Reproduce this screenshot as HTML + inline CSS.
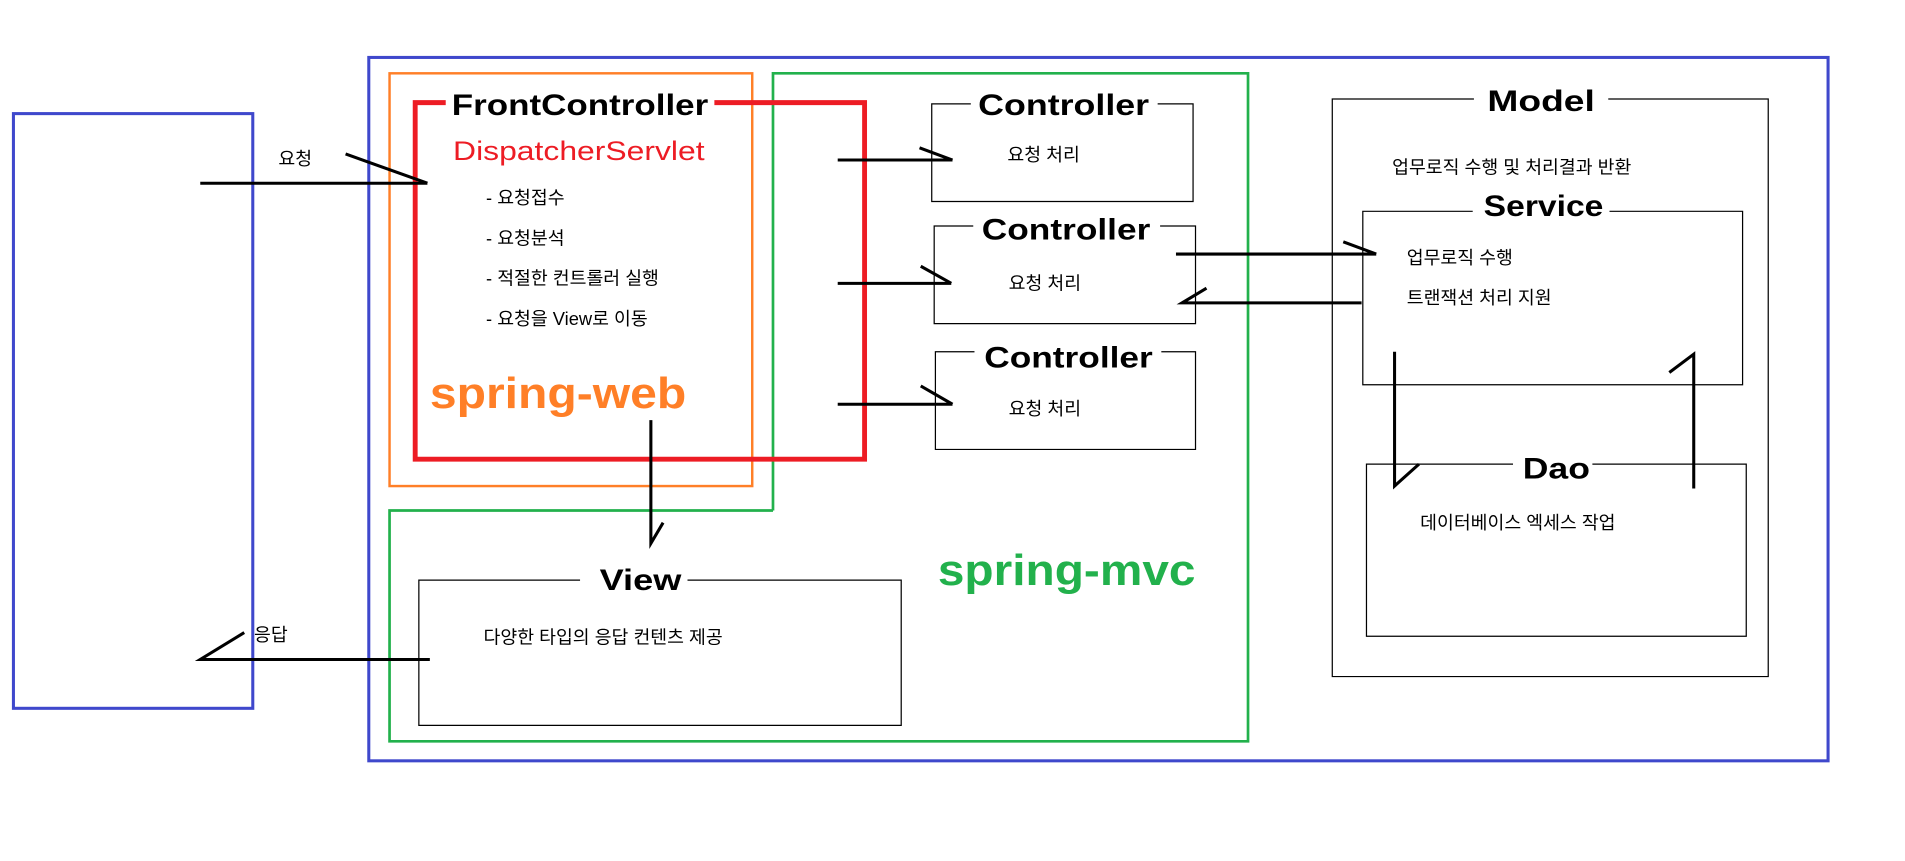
<!DOCTYPE html>
<html><head><meta charset="utf-8"><style>
html,body{margin:0;padding:0;background:#fff;}
svg{display:block;}
text{font-family:"Liberation Sans","Noto Sans CJK KR",sans-serif;}
</style></head><body>
<svg width="1905" height="861" viewBox="0 0 1560 705" xmlns="http://www.w3.org/2000/svg">
<rect x="0" y="0" width="1560" height="705" fill="#fff"/>
<g fill="none">
<!-- blue boxes -->
<rect x="11" y="93" width="196" height="487" stroke="#3f48cc" stroke-width="2.5"/>
<rect x="302" y="47" width="1195" height="576" stroke="#3f48cc" stroke-width="2.5"/>
<!-- orange -->
<rect x="319" y="60" width="297" height="338" stroke="#ff7f27" stroke-width="2"/>
<!-- green -->
<path d="M633 418 V60 H1022 V607 H319 V418 H633" stroke="#22b14c" stroke-width="2.2"/>
<!-- red -->
<path d="M365 84 H340 V376 H708 V84 H585" stroke="#ed1c24" stroke-width="4"/>
<!-- controller boxes -->
<path d="M795 85 H763 V165 H977 V85 H948" stroke="#000" stroke-width="1"/>
<path d="M797 185 H765 V265 H979 V185 H950" stroke="#000" stroke-width="1"/>
<path d="M798 288 H766 V368 H979 V288 H951" stroke="#000" stroke-width="1"/>
<!-- view -->
<path d="M475 475 H343 V594 H738 V475 H563" stroke="#000" stroke-width="1"/>
<!-- model -->
<path d="M1207 81 H1091 V554 H1448 V81 H1317" stroke="#000" stroke-width="1"/>
<path d="M1206 173 H1116 V315 H1427 V173 H1318" stroke="#000" stroke-width="1"/>
<path d="M1239 380 H1119 V521 H1430 V380 H1304" stroke="#000" stroke-width="1"/>
<!-- arrows -->
<g stroke="#000" stroke-width="2.5">
<path d="M164 150 H350 M283 126 L350 150"/>
<path d="M686 131 H780 M753 121 L780 131"/>
<path d="M686 232 H779 M754 218 L779 232"/>
<path d="M686 331 H780 M754 316 L780 331"/>
<path d="M352 540 H164 L200 518"/>
<path d="M533 344 V445 L543 428"/>
<path d="M963 208 H1127 M1100 198 L1127 208"/>
<path d="M1115 248 H968 L988 236"/>
<path d="M1142 288 V398 L1162 380"/>
<path d="M1387 400 V290 L1367 305"/>
</g>
</g>
<!-- text -->
<text x="370" y="94" font-size="24" font-weight="bold" textLength="210" lengthAdjust="spacingAndGlyphs">FrontController</text>
<text x="371" y="131" font-size="22" fill="#ed1c24" textLength="206" lengthAdjust="spacingAndGlyphs">DispatcherServlet</text>
<g font-size="15" fill="#000">
<text x="398" y="167">- 요청접수</text>
<text x="398" y="200">- 요청분석</text>
<text x="398" y="233">- 적절한 컨트롤러 실행</text>
<text x="398" y="266">- 요청을 View로 이동</text>
<text x="228" y="135">요청</text>
<text x="208" y="525">응답</text>
<text x="825" y="132">요청 처리</text>
<text x="826" y="237">요청 처리</text>
<text x="826" y="340">요청 처리</text>
<text x="396" y="527">다양한 타입의 응답 컨텐츠 제공</text>
<text x="1140" y="142">업무로직 수행 및 처리결과 반환</text>
<text x="1152" y="216">업무로직 수행</text>
<text x="1152" y="249">트랜잭션 처리 지원</text>
<text x="1163" y="433">데이터베이스 엑세스 작업</text>
</g>
<text x="352" y="334" font-size="36" font-weight="bold" fill="#ff7f27" textLength="210" lengthAdjust="spacingAndGlyphs">spring-web</text>
<text x="768" y="479" font-size="36" font-weight="bold" fill="#22b14c" textLength="211" lengthAdjust="spacingAndGlyphs">spring-mvc</text>
<g font-size="24" font-weight="bold" fill="#000">
<text x="801" y="94" textLength="140" lengthAdjust="spacingAndGlyphs">Controller</text>
<text x="804" y="196" textLength="138" lengthAdjust="spacingAndGlyphs">Controller</text>
<text x="806" y="301" textLength="138" lengthAdjust="spacingAndGlyphs">Controller</text>
<text x="491" y="483" textLength="67" lengthAdjust="spacingAndGlyphs">View</text>
<text x="1218" y="91" textLength="88" lengthAdjust="spacingAndGlyphs">Model</text>
<text x="1215" y="177" textLength="98" lengthAdjust="spacingAndGlyphs">Service</text>
<text x="1247" y="392" textLength="55" lengthAdjust="spacingAndGlyphs">Dao</text>
</g>
</svg>
</body></html>
